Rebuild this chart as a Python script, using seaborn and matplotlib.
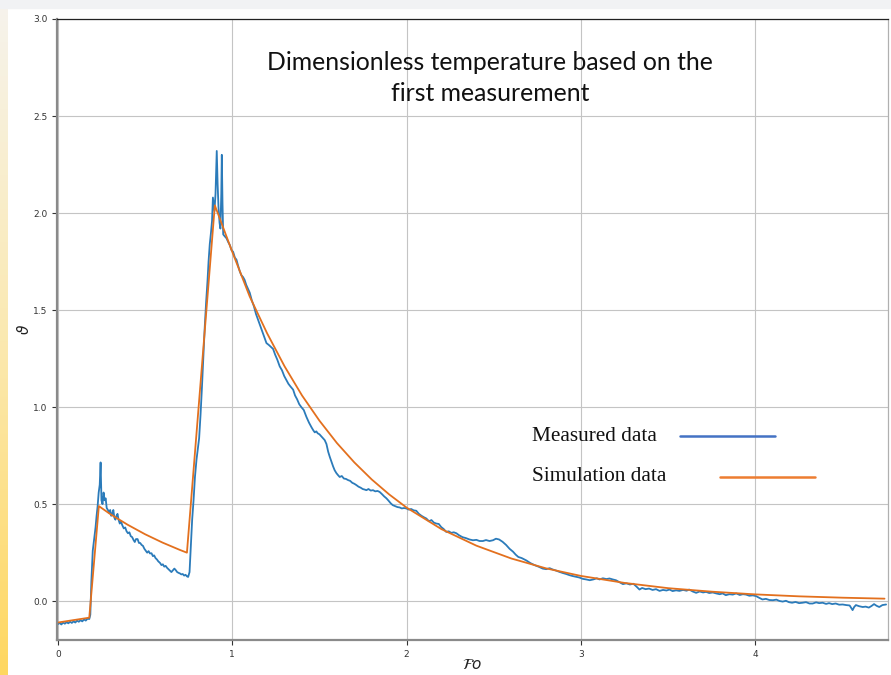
import numpy as np
import pandas as pd
import matplotlib
matplotlib.use("Agg")
import matplotlib.pyplot as plt
import seaborn as sns
from matplotlib.colors import LinearSegmentedColormap
from matplotlib.patches import Rectangle

# measured dimensionless temperature
fo_meas = [0.000, 0.010, 0.020, 0.030, 0.040, 0.050, 0.060, 0.070, 0.080, 0.090,
           0.100, 0.110, 0.120, 0.130, 0.140, 0.150, 0.160, 0.170, 0.180, 0.186,
           0.192, 0.200, 0.208, 0.216, 0.222, 0.228, 0.234, 0.240, 0.245, 0.250,
           0.256, 0.262, 0.268, 0.274, 0.280, 0.287, 0.294, 0.300, 0.306, 0.312,
           0.318, 0.324, 0.330, 0.336, 0.342, 0.348, 0.355, 0.362, 0.370, 0.378,
           0.386, 0.394, 0.402, 0.410, 0.418, 0.426, 0.434, 0.441, 0.448, 0.457,
           0.465, 0.472, 0.480, 0.488, 0.496, 0.504, 0.512, 0.520, 0.528, 0.537,
           0.545, 0.552, 0.560, 0.568, 0.576, 0.585, 0.594, 0.602, 0.610, 0.618,
           0.626, 0.634, 0.642, 0.651, 0.660, 0.668, 0.676, 0.684, 0.692, 0.700,
           0.708, 0.716, 0.724, 0.732, 0.740, 0.747, 0.755, 0.762, 0.770, 0.778,
           0.786, 0.795, 0.803, 0.810, 0.818, 0.826, 0.834, 0.842, 0.850, 0.858,
           0.864, 0.871, 0.878, 0.884, 0.889, 0.893, 0.898, 0.904, 0.911, 0.916,
           0.921, 0.927, 0.932, 0.937, 0.940, 0.944, 0.948, 0.957, 0.967, 0.977,
           0.986, 0.995, 1.005, 1.015, 1.024, 1.033, 1.043, 1.052, 1.062, 1.071,
           1.080, 1.090, 1.100, 1.112, 1.124, 1.136, 1.148, 1.160, 1.172, 1.184,
           1.196, 1.210, 1.222, 1.234, 1.246, 1.258, 1.272, 1.285, 1.298, 1.310,
           1.322, 1.335, 1.349, 1.360, 1.372, 1.384, 1.396, 1.410, 1.425, 1.440,
           1.455, 1.465, 1.473, 1.482, 1.490, 1.500, 1.510, 1.520, 1.530, 1.540,
           1.550, 1.559, 1.568, 1.578, 1.587, 1.597, 1.606, 1.616, 1.628, 1.640,
           1.652, 1.664, 1.676, 1.688, 1.700, 1.712, 1.724, 1.736, 1.748, 1.760,
           1.769, 1.781, 1.794, 1.807, 1.820, 1.833, 1.845, 1.858, 1.871, 1.884,
           1.896, 1.908, 1.920, 1.934, 1.947, 1.960, 1.972, 1.985, 1.998, 2.012,
           2.026, 2.040, 2.055, 2.070, 2.085, 2.100, 2.113, 2.128, 2.142, 2.156,
           2.170, 2.184, 2.198, 2.212, 2.227, 2.241, 2.256, 2.270, 2.285, 2.300,
           2.320, 2.340, 2.360, 2.380, 2.400, 2.418, 2.437, 2.455, 2.475, 2.495,
           2.512, 2.530, 2.550, 2.570, 2.590, 2.610, 2.625, 2.640, 2.660, 2.686,
           2.710, 2.733, 2.756, 2.780, 2.800, 2.820, 2.835, 2.856, 2.876, 2.896,
           2.915, 2.934, 2.950, 2.970, 2.990, 3.010, 3.030, 3.050, 3.070, 3.090,
           3.106, 3.125, 3.145, 3.163, 3.182, 3.200, 3.220, 3.240, 3.260, 3.280,
           3.300, 3.318, 3.335, 3.350, 3.370, 3.390, 3.410, 3.430, 3.450, 3.470,
           3.490, 3.507, 3.525, 3.545, 3.564, 3.585, 3.605, 3.620, 3.640, 3.660,
           3.680, 3.700, 3.717, 3.735, 3.755, 3.775, 3.795, 3.812, 3.830, 3.850,
           3.870, 3.890, 3.910, 3.928, 3.946, 3.965, 3.985, 4.004, 4.020, 4.040,
           4.060, 4.080, 4.100, 4.120, 4.138, 4.156, 4.175, 4.192, 4.210, 4.230,
           4.250, 4.270, 4.290, 4.310, 4.328, 4.348, 4.365, 4.385, 4.405, 4.422,
           4.440, 4.460, 4.480, 4.500, 4.520, 4.540, 4.557, 4.566, 4.576, 4.595,
           4.615, 4.632, 4.650, 4.665, 4.680, 4.695, 4.710, 4.728, 4.749]

theta_meas = [-0.118, -0.112, -0.120, -0.110, -0.116, -0.108, -0.114, -0.106, -0.112, -0.104,
              -0.110, -0.100, -0.106, -0.098, -0.104, -0.094, -0.100, -0.090, -0.092, -0.070,
              0.100, 0.260, 0.320, 0.380, 0.440, 0.490, 0.560, 0.600, 0.715, 0.520,
              0.500, 0.560, 0.520, 0.530, 0.480, 0.470, 0.455, 0.470, 0.440, 0.450,
              0.470, 0.430, 0.420, 0.440, 0.450, 0.420, 0.400, 0.410, 0.390, 0.375,
              0.380, 0.360, 0.350, 0.355, 0.335, 0.330, 0.315, 0.305, 0.320, 0.320,
              0.300, 0.300, 0.290, 0.285, 0.270, 0.260, 0.250, 0.258, 0.246, 0.247,
              0.232, 0.236, 0.222, 0.215, 0.205, 0.198, 0.186, 0.190, 0.178, 0.182,
              0.172, 0.165, 0.158, 0.150, 0.160, 0.168, 0.160, 0.150, 0.146, 0.143,
              0.138, 0.140, 0.132, 0.136, 0.128, 0.125, 0.150, 0.280, 0.420, 0.520,
              0.640, 0.730, 0.790, 0.840, 0.960, 1.100, 1.260, 1.410, 1.540, 1.650,
              1.750, 1.840, 1.900, 1.960, 2.080, 2.050, 2.010, 2.100, 2.320, 2.150,
              2.030, 1.950, 1.920, 2.100, 2.300, 2.050, 1.890, 1.880, 1.870, 1.850,
              1.835, 1.810, 1.800, 1.770, 1.760, 1.730, 1.700, 1.680, 1.670, 1.655,
              1.630, 1.610, 1.590, 1.550, 1.520, 1.480, 1.450, 1.420, 1.390, 1.360,
              1.330, 1.320, 1.310, 1.300, 1.270, 1.245, 1.210, 1.190, 1.160, 1.140,
              1.120, 1.105, 1.090, 1.060, 1.040, 1.015, 1.000, 0.985, 0.950, 0.920,
              0.895, 0.880, 0.870, 0.875, 0.865, 0.860, 0.850, 0.840, 0.830, 0.810,
              0.770, 0.744, 0.720, 0.695, 0.675, 0.660, 0.650, 0.640, 0.645, 0.632,
              0.630, 0.624, 0.620, 0.610, 0.605, 0.598, 0.590, 0.585, 0.578, 0.575,
              0.572, 0.578, 0.570, 0.572, 0.566, 0.568, 0.563, 0.552, 0.540, 0.530,
              0.518, 0.505, 0.495, 0.490, 0.485, 0.483, 0.478, 0.480, 0.478, 0.472,
              0.475, 0.468, 0.466, 0.450, 0.440, 0.432, 0.426, 0.412, 0.418, 0.405,
              0.400, 0.398, 0.382, 0.372, 0.357, 0.360, 0.352, 0.355, 0.350, 0.340,
              0.330, 0.325, 0.318, 0.314, 0.316, 0.310, 0.310, 0.315, 0.310, 0.314,
              0.322, 0.318, 0.306, 0.290, 0.270, 0.255, 0.240, 0.228, 0.222, 0.210,
              0.196, 0.186, 0.178, 0.168, 0.165, 0.170, 0.164, 0.158, 0.151, 0.145,
              0.140, 0.134, 0.130, 0.126, 0.122, 0.115, 0.112, 0.108, 0.112, 0.118,
              0.112, 0.118, 0.114, 0.117, 0.112, 0.108, 0.098, 0.088, 0.092, 0.086,
              0.090, 0.075, 0.060, 0.068, 0.062, 0.065, 0.058, 0.062, 0.053, 0.058,
              0.055, 0.060, 0.052, 0.056, 0.053, 0.058, 0.054, 0.060, 0.050, 0.043,
              0.050, 0.045, 0.048, 0.042, 0.045, 0.040, 0.036, 0.040, 0.031, 0.036,
              0.034, 0.040, 0.032, 0.036, 0.034, 0.028, 0.030, 0.026, 0.018, 0.009,
              0.012, 0.006, 0.005, 0.008, 0.001, -0.002, 0.002, -0.005, -0.008, -0.004,
              -0.010, -0.008, -0.005, -0.012, -0.012, -0.006, -0.010, -0.008, -0.014, -0.010,
              -0.015, -0.012, -0.018, -0.017, -0.020, -0.022, -0.046, -0.030, -0.020, -0.026,
              -0.030, -0.028, -0.033, -0.025, -0.015, -0.024, -0.030, -0.020, -0.017]

# simulated curve
fo_sim = [0.0, 0.18, 0.235, 0.3, 0.4, 0.5, 0.6, 0.7, 0.74, 0.90, 1.0, 1.1, 1.2, 1.3,
          1.4, 1.5, 1.6, 1.7, 1.8, 1.9, 2.0, 2.2, 2.4, 2.6, 2.8, 3.0, 3.25, 3.5,
          3.75, 4.0, 4.25, 4.5, 4.74]
theta_sim = [-0.11, -0.085, 0.49, 0.449, 0.394, 0.345, 0.302, 0.264, 0.25, 2.04, 1.80,
             1.57, 1.38, 1.21, 1.06, 0.93, 0.815, 0.715, 0.627, 0.55, 0.482, 0.371,
             0.286, 0.220, 0.169, 0.130, 0.094, 0.067, 0.049, 0.035, 0.025, 0.018, 0.013]

meas = pd.DataFrame({"Fo": fo_meas, "theta": theta_meas})
sim = pd.DataFrame({"Fo": fo_sim, "theta": theta_sim})

sns.set_style("white")
W, H = 891, 675
fig = plt.figure(figsize=(W / 100, H / 100), dpi=100)

# screenshot frame: light grey top strip, yellow gradient on the left
fig.patches.append(Rectangle((0, 1 - 8 / H), 1, 8 / H, transform=fig.transFigure,
                             color="#f1f2f4", zorder=0))
strip = fig.add_axes([0, 0, 8 / W, 1 - 8 / H])
grad = LinearSegmentedColormap.from_list("strip", ["#f6f3ec", "#fbe9b0", "#ffd760"])
strip.imshow(np.linspace(0, 1, 256).reshape(-1, 1), aspect="auto", cmap=grad)
strip.axis("off")

ax = fig.add_axes([57 / W, 35 / H, 831 / W, 621 / H])
sns.lineplot(data=meas, x="Fo", y="theta", ax=ax, color="#2b7bba", lw=1.3,
             estimator=None, sort=False)
sns.lineplot(data=sim, x="Fo", y="theta", ax=ax, color="#e3701e", lw=1.3,
             estimator=None, sort=False)

ax.set_xlim(-0.005, 4.76)
ax.set_ylim(-0.2, 3.0)
ax.set_xticks([0, 1, 2, 3, 4])
ax.set_yticks([0.0, 0.5, 1.0, 1.5, 2.0, 2.5, 3.0])
ax.grid(True, color="#c4c4c4", lw=0.8)
ax.tick_params(axis="both", labelsize=6.5, colors="#333333", length=3.5, width=0.8,
               direction="out", left=True, bottom=True)
for side in ["left", "bottom"]:
    ax.spines[side].set_color("#8a8a8a")
    ax.spines[side].set_linewidth(1.6)
ax.spines["top"].set_color("#222222")
ax.spines["top"].set_linewidth(0.9)
ax.spines["right"].set_color("#b0b0b0")
ax.spines["right"].set_linewidth(0.9)

ax.set_xlabel(r"$\mathcal{F}\mathit{o}$", fontsize=11, color="#222222")
ax.set_ylabel(r"$\vartheta$", fontsize=11, color="#222222")
ax.xaxis.set_label_coords(0.5, -0.027)
ax.yaxis.set_label_coords(-0.030, 0.5)

ax.text(0.521, 0.905, "Dimensionless temperature based on the\nfirst measurement",
        transform=ax.transAxes, ha="center", va="center", fontsize=17.8,
        family="Lato", linespacing=1.45, color="#111111")

# hand-made legend
ax.text(0.5716, 0.3285, "Measured data", transform=ax.transAxes, ha="left",
        va="center", fontsize=15.3, family="Liberation Serif", color="#111111")
ax.plot([0.7497, 0.8640], [0.3285, 0.3285], transform=ax.transAxes,
        color="#4472c4", lw=1.8)
ax.text(0.5716, 0.2625, "Simulation data", transform=ax.transAxes, ha="left",
        va="center", fontsize=15.3, family="Liberation Serif", color="#111111")
ax.plot([0.7978, 0.9122], [0.2625, 0.2625], transform=ax.transAxes,
        color="#ed7d31", lw=1.8)

fig.savefig("out.png", dpi=100)
